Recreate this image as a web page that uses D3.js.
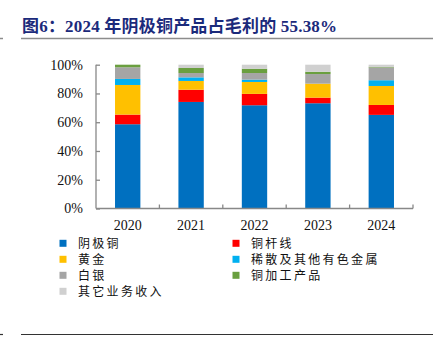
<!DOCTYPE html>
<html>
<head>
<meta charset="utf-8">
<script src="https://cdn.jsdelivr.net/npm/d3@7"></script>
<style>
  html, body { margin: 0; padding: 0; background: #fff; }
  svg { display: block; }
</style>
</head>
<body>
<svg id="chart" width="433" height="341"></svg>
<script>
// gross profit share by product line, percent per year
const years = ["2020", "2021", "2022", "2023", "2024"];
const seriesNames = ["阴极铜", "铜杆线", "黄金", "稀散及其他有色金属", "白银", "铜加工产品", "其它业务收入"];
const cathodeCopper = [58.6, 74.1, 71.8, 73.2, 65.1];
const copperRod = [6.7, 8.5, 7.9, 3.9, 6.9];
const gold = [20.6, 6.1, 8.3, 9.7, 13.2];
const rareMetals = [4.2, 2.5, 1.6, 0.0, 4.0];
const silver = [8.1, 3.0, 4.6, 6.7, 8.9];
const copperProcessing = [1.8, 3.5, 3.0, 1.6, 0.4];
const otherIncome = [0.0, 2.3, 2.8, 4.9, 1.5];
const yTicks = [0, 20, 40, 60, 80, 100];

const colors = ["#0070C0", "#FF0000", "#FFC000", "#00B0F0", "#A5A5A5", "#6A9F3F", "#D0D0D0"];
const seriesValues = [cathodeCopper, copperRod, gold, rareMetals, silver, copperProcessing, otherIncome];

const table = years.map((year, i) => {
    const row = { year };
    seriesNames.forEach((name, s) => { row[name] = seriesValues[s][i]; });
    return row;
});

const svg = d3.select("#chart");
const serif = "'Liberation Serif', 'Times New Roman', serif";
const cjk = "'Noto Sans CJK SC', sans-serif";

// title and rules
svg.append("text")
    .attr("x", 22)
    .attr("y", 32)
    .attr("fill", "#1B2A7B")
    .attr("font-weight", "bold")
    .attr("font-size", 17)
    .attr("letter-spacing", 0.2)
    .attr("font-family", serif + ", " + cjk)
    .text("图6：2024 年阴极铜产品占毛利的 55.38%");

svg.append("line")
    .attr("x1", 21).attr("x2", 433).attr("y1", 38.5).attr("y2", 38.5)
    .attr("stroke", "#8c8c8c").attr("stroke-width", 1.5);
svg.append("line")
    .attr("x1", 0).attr("x2", 3).attr("y1", 38.5).attr("y2", 38.5)
    .attr("stroke", "#8c8c8c").attr("stroke-width", 1.5);
svg.append("line")
    .attr("x1", 21).attr("x2", 433).attr("y1", 334.5).attr("y2", 334.5)
    .attr("stroke", "#333").attr("stroke-width", 1.2);
svg.append("line")
    .attr("x1", 0).attr("x2", 3).attr("y1", 334.5).attr("y2", 334.5)
    .attr("stroke", "#333").attr("stroke-width", 1.2);

// plot area
const plotLeft = 96, plotRight = 413, plotTop = 64.7, plotBottom = 208.5;

const x = d3.scaleBand()
    .domain(years)
    .range([plotLeft, plotRight])
    .paddingInner(0.6)
    .paddingOuter(0.3);

const y = d3.scaleLinear()
    .domain([0, 100])
    .range([plotBottom, plotTop]);

const stacked = d3.stack().keys(seriesNames)(table);

svg.append("g")
    .selectAll("g")
    .data(stacked)
    .join("g")
    .attr("fill", (d, i) => colors[i])
    .selectAll("rect")
    .data(d => d)
    .join("rect")
    .attr("x", d => x(d.data.year))
    .attr("y", d => y(d[1]))
    .attr("width", x.bandwidth())
    .attr("height", d => y(d[0]) - y(d[1]));

// y axis, ticks pointing inward
const yAxis = svg.append("g")
    .attr("transform", `translate(${plotLeft},0)`)
    .call(d3.axisLeft(y).tickValues(yTicks).tickFormat(d => d + "%").tickSize(-4).tickPadding(13));

// x axis with ticks at the band boundaries
const xAxis = svg.append("g")
    .attr("transform", `translate(0,${plotBottom})`)
    .call(d3.axisBottom(x).tickSize(0).tickPadding(12));

const boundaries = d3.range(years.length + 1).map(k => plotLeft + k * x.step());
xAxis.selectAll(".boundary")
    .data(boundaries.slice(1))
    .join("line")
    .attr("class", "boundary")
    .attr("x1", d => d).attr("x2", d => d)
    .attr("y1", 0).attr("y2", -4);

[yAxis, xAxis].forEach(ax => {
    ax.select(".domain").attr("stroke", "#888").attr("stroke-width", 1.3);
    ax.selectAll("line").attr("stroke", "#888").attr("stroke-width", 1.3);
    ax.selectAll("text")
        .attr("fill", "#111")
        .attr("font-size", 14)
        .attr("font-family", serif);
});
yAxis.select(".domain").attr("d", `M0,${plotBottom}V${plotTop}`);
xAxis.select(".domain").attr("d", `M${plotLeft},0H${plotRight}`);

// legend, two columns
const legend = svg.append("g")
    .selectAll("g")
    .data(seriesNames)
    .join("g")
    .attr("transform", (d, i) => `translate(${i % 2 === 0 ? 59.5 : 232.5},${243.3 + Math.floor(i / 2) * 16})`);

legend.append("rect")
    .attr("x", 0).attr("y", -3.5)
    .attr("width", 7).attr("height", 7)
    .attr("fill", (d, i) => colors[i]);

legend.append("text")
    .attr("x", 18.5)
    .attr("dy", "0.36em")
    .attr("font-size", 12)
    .attr("letter-spacing", 2.3)
    .attr("font-family", cjk)
    .attr("fill", "#111")
    .text(d => d);
</script>
</body>
</html>
